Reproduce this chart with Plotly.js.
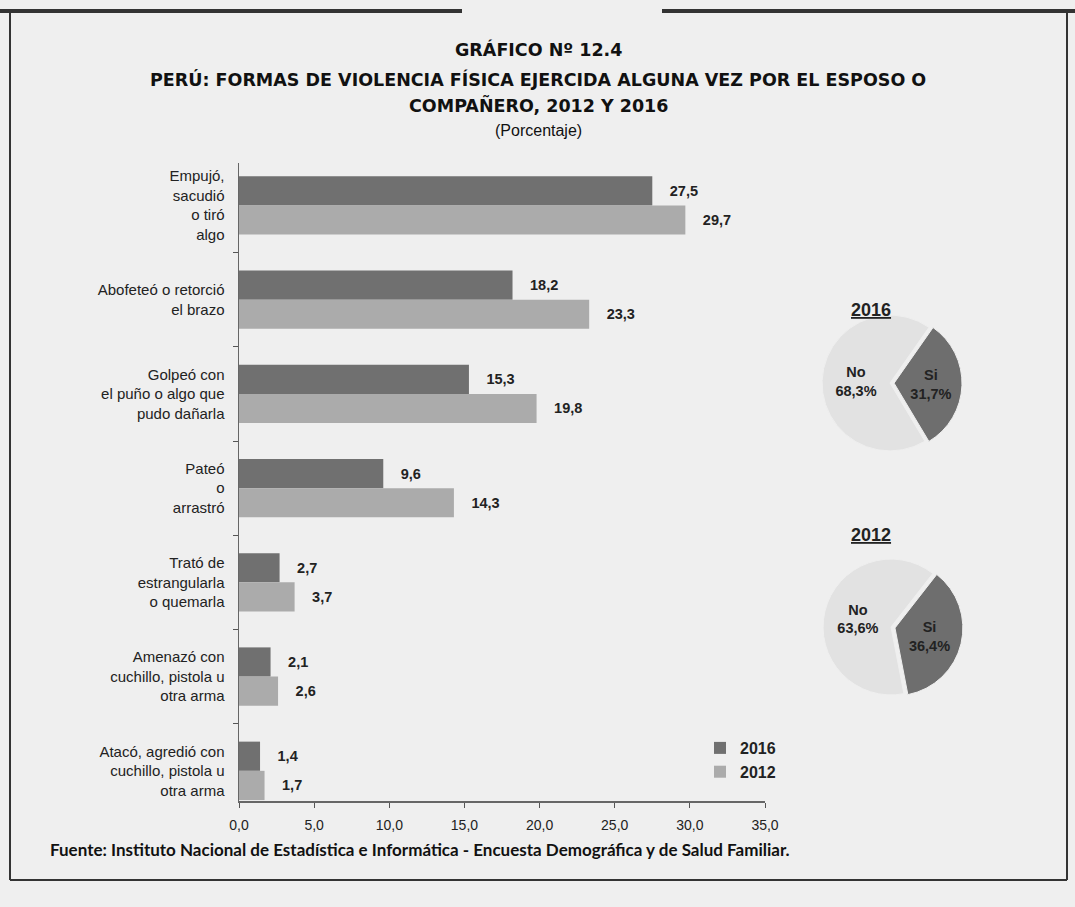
<!DOCTYPE html>
<html><head><meta charset="utf-8">
<script src="https://cdn.plot.ly/plotly-3.0.1.min.js"></script>
<style>html,body{margin:0;padding:0;background:#efefef}</style>
</head><body><div id="chart" style="width:1075px;height:907px"></div>
<script>
const categories = [
  "Empujó,<br>sacudió<br>o tiró<br>algo",
  "Abofeteó o retorció<br>el brazo",
  "Golpeó con<br>el puño o algo que<br>pudo dañarla",
  "Pateó<br>o<br>arrastró",
  "Trató de<br>estrangularla<br>o quemarla",
  "Amenazó con<br>cuchillo, pistola u<br>otra arma",
  "Atacó, agredió con<br>cuchillo, pistola u<br>otra arma"
];
const values2016 = [27.5, 18.2, 15.3, 9.6, 2.7, 2.1, 1.4];
const values2012 = [29.7, 23.3, 19.8, 14.3, 3.7, 2.6, 1.7];
const seriesNames = ["2016", "2012"];
const xTickVals = [0, 5, 10, 15, 20, 25, 30, 35];
const pieLabels = ["Si", "No"];
const pie2016 = [31.7, 68.3];
const pie2012 = [36.4, 63.6];
const pieTitles = ["2016", "2012"];
const titleLines = ["GRÁFICO Nº 12.4", "PERÚ: FORMAS DE VIOLENCIA FÍSICA EJERCIDA ALGUNA VEZ POR EL ESPOSO O", "COMPAÑERO, 2012 Y 2016", "(Porcentaje)"];
const sourceText = "Fuente: Instituto Nacional de Estadística e Informática - Encuesta Demográfica y de Salud Familiar.";

const W = 1075, H = 907;
const fx = px => px / W;
const fy = py => 1 - py / H;
const FONT = "Liberation Sans, Arial, sans-serif";
const TFONT = "DejaVu Sans, Liberation Sans, sans-serif";
const C16 = "#707070", C12 = "#ababab";

const traces = [
  {type: "bar", orientation: "h", name: "<b>" + seriesNames[0] + "</b>", y: categories, x: values2016,
   marker: {color: C16}, texttemplate: "\u2002\u2002<b>%{x:.1f}</b>", textposition: "outside",
   textfont: {family: FONT, size: 14.5, color: "#222"}, cliponaxis: false, hoverinfo: "x"},
  {type: "bar", orientation: "h", name: "<b>" + seriesNames[1] + "</b>", y: categories, x: values2012,
   marker: {color: C12}, texttemplate: "\u2002\u2002<b>%{x:.1f}</b>", textposition: "outside",
   textfont: {family: FONT, size: 14.5, color: "#222"}, cliponaxis: false, hoverinfo: "x"},
  {type: "pie", labels: pieLabels, values: pie2016, sort: false, direction: "clockwise", rotation: 35,
   pull: [0.06, 0], marker: {colors: ["#6e6e6e", "#e2e2e2"], line: {color: "#efefef", width: 1}},
   texttemplate: "<b>%{label}<br>%{value:.1f}%</b>", textposition: "inside", insidetextorientation: "horizontal",
   textfont: {family: FONT, size: 14.5, color: "#222"}, showlegend: false,
   domain: {x: [fx(818), fx(962)], y: [fy(455), fy(311)]}},
  {type: "pie", labels: pieLabels, values: pie2012, sort: false, direction: "clockwise", rotation: 38,
   pull: [0.06, 0], marker: {colors: ["#6e6e6e", "#e2e2e2"], line: {color: "#efefef", width: 1}},
   texttemplate: "<b>%{label}<br>%{value:.1f}%</b>", textposition: "inside", insidetextorientation: "horizontal",
   textfont: {family: FONT, size: 14.5, color: "#222"}, showlegend: false,
   domain: {x: [fx(819), fx(963)], y: [fy(699), fy(555)]}}
];

const titleY = [50, 80, 105, 130];
const annotations = titleLines.map((t, i) => ({
  xref: "paper", yref: "paper", x: fx(538), y: fy(titleY[i]), xanchor: "center", yanchor: "middle",
  text: i < 3 ? "<b>" + t + "</b>" : t, showarrow: false,
  font: {family: i < 3 ? TFONT : FONT, size: i < 3 ? 17.5 : 16, color: "#111"}
}));
annotations.push({xref: "paper", yref: "paper", x: fx(893), y: fy(298), text: "<b><u>" + pieTitles[0] + "</u></b>",
  showarrow: false, font: {family: FONT, size: 18, color: "#222"}});
annotations.push({xref: "paper", yref: "paper", x: fx(893), y: fy(535), text: "<b><u>" + pieTitles[1] + "</u></b>",
  showarrow: false, font: {family: FONT, size: 18, color: "#222"}});
annotations.push({xref: "paper", yref: "paper", x: fx(48), y: fy(849), xanchor: "left", yanchor: "middle",
  text: "<b>" + sourceText + "</b>", showarrow: false,
  font: {family: "Lato, sans-serif", size: 17, color: "#111"}});

const ln = (x0, y0, x1, y1, w) => ({type: "line", xref: "paper", yref: "paper",
  x0: fx(x0), y0: fy(y0), x1: fx(x1), y1: fy(y1), line: {color: "#333", width: w}});
const shapes = [
  ln(0, 11, 462, 11, 4), ln(662, 11, 1075, 11, 4),
  ln(10, 11, 10, 880, 2), ln(1067, 11, 1067, 880, 2),
  ln(10, 880, 1067, 880, 2)
];

const layout = {
  width: W, height: H, margin: {l: 0, r: 0, t: 0, b: 0},
  paper_bgcolor: "#efefef", plot_bgcolor: "rgba(0,0,0,0)",
  separators: ",.", barmode: "group", bargap: 0.38, bargroupgap: 0,
  font: {family: FONT, color: "#222"},
  xaxis: {domain: [fx(239), fx(765)], range: [0, 35], tickvals: xTickVals, tickformat: ".1f",
    ticks: "outside", ticklen: 5, tickcolor: "#555", showline: true, linecolor: "#666", linewidth: 1.5,
    showgrid: false, zeroline: false, tickfont: {family: FONT, size: 14, color: "#222"}, ticklabelstandoff: 6},
  yaxis: {domain: [fy(801), fy(163)], type: "category", range: [6.32, -0.45], tickson: "boundaries",
    ticks: "outside", ticklen: 5, tickcolor: "#555", showline: true, linecolor: "#666", linewidth: 1.5,
    showgrid: false, zeroline: false, tickfont: {family: FONT, size: 15, color: "#222"}, ticklabelstandoff: 10},
  showlegend: true,
  legend: {x: fx(700), y: fy(731), xanchor: "left", yanchor: "top", traceorder: "normal",
    bgcolor: "rgba(0,0,0,0)", font: {family: FONT, size: 16, color: "#222"}, itemwidth: 30},
  annotations: annotations, shapes: shapes
};

Plotly.newPlot("chart", traces, layout, {displayModeBar: false, staticPlot: true});
</script></body></html>
